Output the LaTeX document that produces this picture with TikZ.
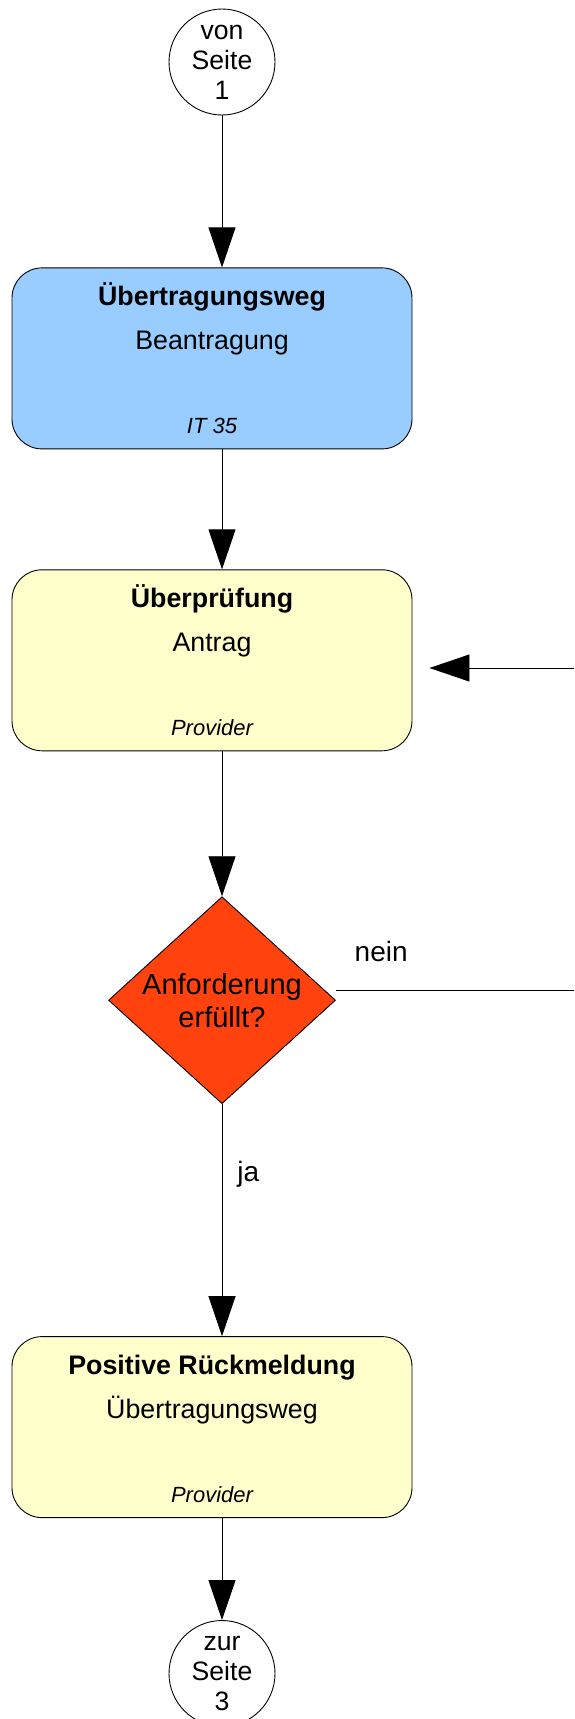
\documentclass[tikz,border=0pt]{standalone}
\usepackage{fontspec}
\setmainfont{Liberation Sans}
\usetikzlibrary{positioning,shapes.geometric,arrows.meta}

\definecolor{stepblue}{HTML}{99CCFF}
\definecolor{stepyellow}{HTML}{FFFFCC}
\definecolor{askred}{HTML}{FF420E}

\tikzset{
  flow/.style={-{Triangle[length=40pt,width=27pt]}, line width=0.9pt},
  pagelink/.style={draw, circle, minimum size=106pt, inner sep=0pt, line width=0.9pt, align=center, font=\fontsize{26.6}{30}\selectfont},
  stepbox/.style={draw, rectangle, rounded corners=30pt, minimum width=400pt, minimum height=181pt, line width=0.9pt},
  steptitle/.style={anchor=base, inner sep=0pt, font=\fontsize{26.8}{30}\selectfont\bfseries},
  stepsub/.style={anchor=base, inner sep=0pt, font=\fontsize{26.8}{30}\selectfont},
  steprole/.style={anchor=base, inner sep=0pt, font=\fontsize{22}{26}\selectfont\itshape},
  askbox/.style={draw, diamond, fill=askred, minimum width=227pt, minimum height=207pt, shape aspect=1.1, inner sep=0pt, line width=0.9pt, align=center, font=\fontsize{29}{33}\selectfont},
  flowlabel/.style={inner sep=0pt, font=\fontsize{28}{32}\selectfont}
}

\begin{document}
\begin{tikzpicture}[x=1pt, y=-1pt]
    \useasboundingbox (0,0) rectangle (574,1719);
    \coordinate (rand) at (574,0);

    \node[pagelink] (von) at (222,62) {von\\Seite\\1};

    \node[stepbox, fill=stepblue, below=152pt of von, xshift=-10pt] (weg) {};
    \node[steptitle] (wegtitle) at ([yshift=-38pt]weg.north) {Übertragungsweg};
    \node[stepsub] (wegsub) at ([yshift=-82pt]weg.north) {Beantragung};
    \node[steprole] (wegrole) at ([yshift=-166pt]weg.north) {IT 35};

    \node[stepbox, fill=stepyellow, below=120pt of weg] (pruef) {};
    \node[steptitle] (prueftitle) at ([yshift=-38pt]pruef.north) {Überprüfung};
    \node[stepsub] (pruefsub) at ([yshift=-82pt]pruef.north) {Antrag};
    \node[steprole] (pruefrole) at ([yshift=-166pt]pruef.north) {Provider};

    \node[askbox, below=145pt of pruef, xshift=10pt] (ask) {Anforderung\\erfüllt?};

    \node[stepbox, fill=stepyellow, below=232pt of ask, xshift=-10pt] (ruck) {};
    \node[steptitle] (rucktitle) at ([yshift=-38pt]ruck.north) {Positive Rückmeldung};
    \node[stepsub] (rucksub) at ([yshift=-82pt]ruck.north) {Übertragungsweg};
    \node[steprole] (ruckrole) at ([yshift=-166pt]ruck.north) {Provider};

    \node[pagelink, below=102pt of ruck, xshift=10pt] (zur) {zur\\Seite\\3};

    % main flow
    \draw[flow] (von) -- (weg.north -| von);
    \draw[flow] (weg.south -| von) -- (pruef.north -| von);
    \draw[flow] (pruef.south -| von) -- (ask);
    \draw[flow] (ask) -- node[flowlabel, pos=0.3, anchor=west, xshift=15pt] (ja) {ja} (ruck.north -| ask);
    \draw[flow] (ruck.south -| von) -- (zur);

    % loop back
    \coordinate (neinstart) at ([yshift=10pt]ask.east);
    \draw[line width=0.9pt] (neinstart) -- node[flowlabel, pos=0.19, anchor=base, yshift=29pt] (nein) {nein} (neinstart -| rand);
    \coordinate (back) at (574,668);
    \draw[flow, shorten >=17pt] (back) -- (back -| pruef.east);
\end{tikzpicture}
\end{document}
